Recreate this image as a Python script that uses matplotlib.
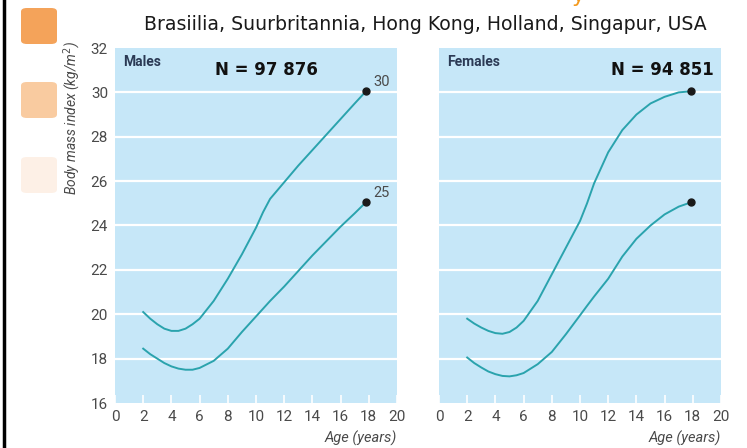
import matplotlib.pyplot as plt
from matplotlib.patches import FancyBboxPatch
from matplotlib.lines import Line2D

# ---------------- data ----------------
age_m = [2, 2.5, 3, 3.5, 4, 4.5, 5, 5.5, 6, 7, 8, 9, 10, 10.5, 11, 12, 13, 14, 15, 16, 17, 17.8]
male_30 = [20.1, 19.8, 19.55, 19.35, 19.25, 19.25, 19.35, 19.55, 19.8, 20.6, 21.6, 22.7, 23.9,
           24.6, 25.2, 25.95, 26.7, 27.4, 28.1, 28.8, 29.5, 30.05]
male_25 = [18.45, 18.2, 18.0, 17.8, 17.65, 17.55, 17.5, 17.5, 17.58, 17.9, 18.45, 19.2, 19.9,
           20.25, 20.6, 21.25, 21.95, 22.65, 23.3, 23.95, 24.55, 25.05]

age_f = [2, 2.5, 3, 3.5, 4, 4.5, 5, 5.5, 6, 7, 8, 9, 10, 10.5, 11, 12, 13, 14, 15, 16, 17, 17.9]
female_30 = [19.8, 19.58, 19.4, 19.25, 19.15, 19.12, 19.2, 19.4, 19.7, 20.6, 21.8, 23.0, 24.2,
             25.0, 25.9, 27.3, 28.3, 29.0, 29.5, 29.8, 30.0, 30.05]
female_25 = [18.05, 17.8, 17.6, 17.42, 17.3, 17.22, 17.2, 17.25, 17.35, 17.75, 18.3, 19.1, 19.95,
             20.38, 20.8, 21.6, 22.6, 23.4, 24.0, 24.5, 24.85, 25.05]

x_ticks = list(range(0, 21, 2))
y_ticks = list(range(16, 33, 2))
panels = ["Males", "Females"]
counts = ["N = 97 876", "N = 94 851"]
cutoffs = ["30", "25"]
title = "Brasiilia, Suurbritannia, Hong Kong, Holland, Singapur, USA"

cond = ["Roboto", "DejaVu Sans"]
bg = "#c6e7f8"
teal = "#2aa3ad"
grey = "#4a4a4a"

fig = plt.figure(figsize=(7.47, 4.48), dpi=100)

# left border line and orange squares
fig.add_artist(Line2D([4 / 747, 4 / 747], [0, 1], color="black", lw=2.5))
for y0, c in zip([8, 82, 157], ["#f4a35a", "#f9cba0", "#fdf0e6"]):
    fig.add_artist(FancyBboxPatch((21 / 747, 1 - (y0 + 36) / 448), 36 / 747, 36 / 448,
                                  boxstyle="round,pad=0,rounding_size=0.008",
                                  transform=fig.transFigure, fc=c, ec="none"))

# cut-off orange glyph at the very top (only its tail is visible)
fig.text(578 / 747, 1 - 2 / 448, "y", color="#f39a1e", fontsize=16, ha="center",
         va="baseline")

fig.text(425 / 747, 1 - 25 / 448, title, fontsize=13.6, ha="center", va="center",
         color="#1a1a1a")

series = [(age_m, male_30, male_25), (age_f, female_30, female_25)]
lefts = [115 / 747, 439 / 747]
for i, ax_left in enumerate(lefts):
    ax = fig.add_axes([ax_left, 1 - 403 / 448, 282 / 747, 355 / 448])
    ax.set_facecolor(bg)
    for s in ax.spines.values():
        s.set_visible(False)
    ax.set_xlim(0, 20)
    ax.set_ylim(16, 32)
    for yv in y_ticks[1:-1]:
        ax.axhline(yv, color="white", lw=1.6, zorder=1)
    ages, upper, lower = series[i]
    ax.plot(ages, upper, color=teal, lw=1.4, zorder=2)
    ax.plot(ages, lower, color=teal, lw=1.4, zorder=2)
    ax.plot([ages[-1], ages[-1]], [upper[-1], lower[-1]], "o", color="#1a1a1a",
            ms=5, zorder=3)
    ax.set_xticks(x_ticks)
    ax.set_xticklabels([str(v) for v in x_ticks], family=cond, fontsize=11, color=grey)
    ax.tick_params(axis="x", direction="in", color="white", length=6, width=1.2, pad=5)
    ax.set_yticks(y_ticks)
    if i == 0:
        ax.set_yticklabels([str(v) for v in y_ticks], family=cond, fontsize=11, color=grey)
        ax.tick_params(axis="y", length=0, pad=5)
        for val, yv in zip(cutoffs, [upper[-1], lower[-1]]):
            ax.annotate(val, (ages[-1], yv), xytext=(5, 4), textcoords="offset points",
                        family=cond, fontsize=10.5, color=grey)
        ax.text(0.55, 31.35, panels[i], family=cond, fontsize=10, fontweight="bold",
                color="#2b3a55", va="center")
        ax.text(7.1, 31.0, counts[i], fontsize=12, fontweight="bold", color="#111111",
                va="center")
    else:
        ax.set_yticklabels([])
        ax.tick_params(axis="y", length=0)
        ax.text(0.6, 31.35, panels[i], family=cond, fontsize=10, fontweight="bold",
                color="#2b3a55", va="center")
        ax.text(19.5, 31.0, counts[i], fontsize=12, fontweight="bold", color="#111111",
                va="center", ha="right")
    fig.text(ax_left + 282 / 747, 1 - 438 / 448, "Age (years)", family=cond, fontsize=10.5,
             style="italic", color=grey, ha="right", va="center")

fig.text(72 / 747, 1 - 118 / 448, "Body mass index (kg/m$^2$)", rotation=90,
         family=cond, fontsize=10, style="italic", color=grey, ha="center", va="center")

fig.savefig("out.png", dpi=100)
